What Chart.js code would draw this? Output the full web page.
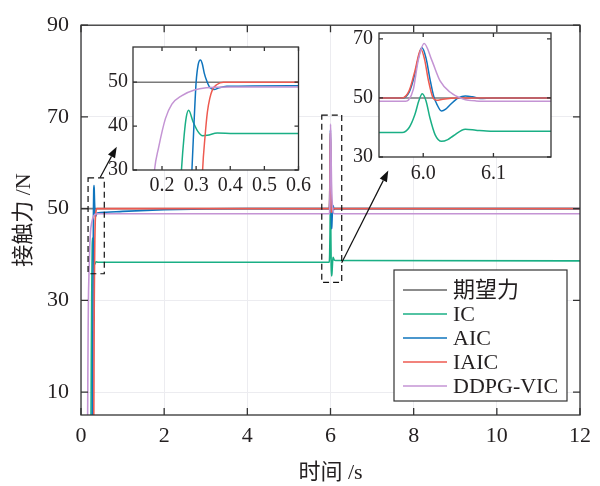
<!DOCTYPE html>
<html>
<head>
<meta charset="utf-8">
<script src="https://cdn.jsdelivr.net/npm/chart.js@4.4.1/dist/chart.umd.min.js"></script>
<style>
  html, body { margin: 0; padding: 0; background: #fff; }
  #wrap { position: relative; width: 600px; height: 486px; }
  #wrap canvas { position: absolute; }
</style>
</head>
<body>
<div id="wrap">
  <canvas id="mainChart" width="600" height="486" style="left:0;top:0"></canvas>
  <canvas id="inset1" width="215" height="170" style="left:100px;top:30px"></canvas>
  <canvas id="inset2" width="225" height="175" style="left:340px;top:15px"></canvas>
</div>
<script>
// series (time in s, force in N)
const seriesNames = ['期望力', 'IC', 'AIC', 'IAIC', 'DDPG-VIC'];

const desiredT = [0, 12];
const desiredF = [50, 50];

const icT = [0, 0.238, 0.248, 0.257, 0.265, 0.271, 0.278, 0.291, 0.305, 0.319, 0.333, 0.362, 0.41, 1.0,
  5.97, 5.98, 5.988, 5.994, 5.9986, 6.004, 6.0096, 6.017, 6.026, 6.035, 6.043, 6.06, 6.075, 6.09, 6.12, 12];
const icF = [0, 0, 17, 30, 38, 42, 43.6, 41, 38.8, 37.8, 37.9, 38.4, 38.3, 38.3,
  38.3, 40, 44.3, 49.2, 51.4, 49, 43.2, 37.5, 35.3, 35.9, 37.2, 39.4, 39.1, 38.8, 38.7, 38.6];

const aicT = [0, 0.27, 0.28, 0.2877, 0.294, 0.3, 0.306, 0.3126, 0.318, 0.324, 0.331, 0.338, 0.345, 0.3526, 0.367, 0.39, 0.6, 1.0, 2.0, 3.0, 4.0,
  5.97, 5.98, 5.988, 5.993, 5.998, 6.004, 6.0096, 6.015, 6.019, 6.026, 6.032, 6.038, 6.05, 6.06, 6.07, 6.081, 6.1, 12];
const aicF = [0, 0, 14, 30, 41, 50, 54, 55.05, 54.2, 52, 50.3, 49.05, 48.5, 48.3, 48.7, 49.05, 49.2, 49.4, 49.75, 49.95, 50,
  50, 52, 58, 63.5, 67.1, 63.5, 56.4, 50.5, 48.1, 45.6, 46.2, 47.6, 50, 50.7, 50.4, 49.8, 50, 50];

const iaicT = [0, 0.305, 0.312, 0.319, 0.326, 0.333, 0.34, 0.348, 0.36, 0.38,
  5.97, 5.98, 5.988, 5.9967, 6.002, 6.007, 6.014, 6.019, 6.028, 6.05, 12];
const iaicF = [0, 0, 14, 30, 37.5, 43.2, 46.3, 48.3, 49.4, 50,
  50, 52.5, 59, 66.5, 63, 56.4, 50, 49.2, 49.6, 50, 50];

const ddpgT = [0, 0.156, 0.165, 0.172, 0.178, 0.19, 0.21, 0.229, 0.257, 0.295, 0.33, 0.4,
  5.975, 5.979, 5.986, 5.993, 6.0014, 6.012, 6.024, 6.038, 6.057, 6.075, 6.1, 12];
const ddpgF = [0, 0, 14, 24, 30, 35.1, 41.7, 45, 46.9, 48.2, 48.7, 48.9,
  48.9, 49.3, 53, 62.9, 68.45, 62.9, 55.8, 52, 49.6, 49.0, 48.9, 48.9];

// tick labels
const mainXTicks = [0, 2, 4, 6, 8, 10, 12];
const mainYTicks = [10, 30, 50, 70, 90];
const inset1XTicks = [0.2, 0.3, 0.4, 0.5, 0.6];
const inset1YTicks = [30, 40, 50];
const inset2XTicks = [6.0, 6.1];
const inset2YTicks = [30, 50, 70];

// zoom boxes on main axes [t0, t1, f0, f1] and arrows [tFrom, fFrom, tTo, fTo]
const zoomBoxes = [[0.17, 0.56, 35.8, 56.7], [5.79, 6.27, 33.9, 70.4]];
const zoomArrows = [[0.46, 56.8, 0.86, 63.5], [6.27, 38.2, 7.39, 58.3]];

const colors = ['#7a7a7a', '#1aaf85', '#0f74bd', '#ee5a50', '#c494d4'];
const seriesT = [desiredT, icT, aicT, iaicT, ddpgT];
const seriesF = [desiredF, icF, aicF, iaicF, ddpgF];

const serif = '"Liberation Serif", "Times New Roman", "Noto Sans CJK SC", serif';
const textColor = '#231f20';
const axisColor = '#333333';

function makeDatasets(width) {
  return seriesNames.map((name, i) => ({
    label: name,
    data: seriesT[i].map((t, k) => ({ x: t, y: seriesF[i][k] })),
    borderColor: colors[i],
    borderWidth: width,
    pointRadius: 0,
    cubicInterpolationMode: 'monotone',
    fill: false,
    // later series drawn on top, like the plot order
    order: seriesNames.length - i
  }));
}

function fixedTicks(values) {
  return scale => { scale.ticks = values.map(v => ({ value: v })); };
}

function framePlugin(tickLen, whiteBg) {
  return {
    id: 'frame',
    beforeDraw(chart) {
      if (!whiteBg) return;
      const a = chart.chartArea, ctx = chart.ctx;
      ctx.save();
      ctx.fillStyle = '#fff';
      ctx.fillRect(a.left, a.top, a.right - a.left, a.bottom - a.top);
      ctx.restore();
    },
    afterDatasetsDraw(chart) {
      const { ctx, chartArea: a, scales: { x, y } } = chart;
      ctx.save();
      ctx.strokeStyle = axisColor;
      ctx.lineWidth = 1.3;
      ctx.strokeRect(a.left, a.top, a.right - a.left, a.bottom - a.top);
      ctx.beginPath();
      x.ticks.forEach(t => {
        const px = x.getPixelForValue(t.value);
        ctx.moveTo(px, a.bottom); ctx.lineTo(px, a.bottom - tickLen);
        ctx.moveTo(px, a.top); ctx.lineTo(px, a.top + tickLen);
      });
      y.ticks.forEach(t => {
        const py = y.getPixelForValue(t.value);
        ctx.moveTo(a.left, py); ctx.lineTo(a.left + tickLen, py);
        ctx.moveTo(a.right, py); ctx.lineTo(a.right - tickLen, py);
      });
      ctx.stroke();
      ctx.restore();
    }
  };
}

function drawArrow(ctx, x0, y0, x1, y1) {
  const ang = Math.atan2(y1 - y0, x1 - x0);
  const len = 11, half = 4;
  const bx = x1 - len * Math.cos(ang), by = y1 - len * Math.sin(ang);
  ctx.beginPath();
  ctx.moveTo(x0, y0); ctx.lineTo(bx, by);
  ctx.stroke();
  ctx.beginPath();
  ctx.moveTo(x1, y1);
  ctx.lineTo(bx + half * Math.sin(ang), by - half * Math.cos(ang));
  ctx.lineTo(bx - half * Math.sin(ang), by + half * Math.cos(ang));
  ctx.closePath();
  ctx.fill();
}

const annotations = {
  id: 'annotations',
  afterDraw(chart) {
    const { ctx, scales: { x, y } } = chart;
    ctx.save();
    ctx.strokeStyle = '#111'; ctx.fillStyle = '#111';
    ctx.lineWidth = 1.2;
    ctx.setLineDash([6, 4]);
    zoomBoxes.forEach(b => {
      const l = x.getPixelForValue(b[0]), r = x.getPixelForValue(b[1]);
      const t = y.getPixelForValue(b[3]), btm = y.getPixelForValue(b[2]);
      ctx.strokeRect(l, t, r - l, btm - t);
    });
    ctx.setLineDash([]);
    zoomArrows.forEach(a => {
      drawArrow(ctx, x.getPixelForValue(a[0]), y.getPixelForValue(a[1]),
        x.getPixelForValue(a[2]), y.getPixelForValue(a[3]));
    });

    // legend box
    const L = 394, T = 270, R = 567, B = 401;
    ctx.fillStyle = '#fff';
    ctx.fillRect(L, T, R - L, B - T);
    ctx.strokeStyle = axisColor; ctx.lineWidth = 1.2;
    ctx.strokeRect(L, T, R - L, B - T);
    ctx.font = '22px ' + serif;
    ctx.textBaseline = 'middle';
    ctx.textAlign = 'left';
    seriesNames.forEach((name, i) => {
      const ry = 290 + i * 24;
      ctx.strokeStyle = i === 0 ? '#666' : colors[i];
      ctx.lineWidth = 1.6;
      ctx.beginPath(); ctx.moveTo(403, ry); ctx.lineTo(447, ry); ctx.stroke();
      ctx.fillStyle = textColor;
      ctx.fillText(name, 453, ry + 1);
    });
    ctx.restore();
  }
};

function baseOptions(o) {
  return {
    responsive: false,
    animation: false,
    events: [],
    layout: { autoPadding: false, padding: o.padding },
    plugins: { legend: { display: false }, tooltip: { enabled: false } },
    scales: {
      x: {
        type: 'linear', min: o.xMin, max: o.xMax,
        afterBuildTicks: fixedTicks(o.xTicks),
        afterFit: s => { s.height = o.xHeight; },
        grid: { display: o.grid, color: '#ececf0', lineWidth: 1, drawTicks: false },
        border: { display: false },
        ticks: {
          padding: o.xPad, color: textColor, autoSkip: false, maxRotation: 0,
          font: { family: serif, size: o.fontSize },
          callback: o.xFormat
        },
        title: o.xTitle
      },
      y: {
        type: 'linear', min: o.yMin, max: o.yMax,
        afterBuildTicks: fixedTicks(o.yTicks),
        afterFit: s => { s.width = o.yWidth; },
        grid: { display: o.grid, color: '#ececf0', lineWidth: 1, drawTicks: false },
        border: { display: false },
        ticks: {
          padding: o.yPad, color: textColor, autoSkip: false,
          font: { family: serif, size: o.fontSize }
        },
        title: o.yTitle
      }
    }
  };
}

new Chart(document.getElementById('mainChart'), {
  type: 'line',
  data: { datasets: makeDatasets(1.6) },
  options: baseOptions({
    padding: { left: 0, right: 20, top: 13, bottom: 0 },
    xMin: 0, xMax: 12, xTicks: mainXTicks, xHeight: 71, xPad: 8,
    yMin: 5, yMax: 90, yTicks: mainYTicks, yWidth: 81, yPad: 12,
    fontSize: 22, grid: true,
    xFormat: v => String(v),
    xTitle: { display: true, text: '时间 /s', color: textColor, font: { family: serif, size: 22 }, padding: { top: 0, bottom: 0 } },
    yTitle: { display: true, text: '接触力 /N', color: textColor, font: { family: serif, size: 22 }, padding: { top: 11, bottom: 0 } }
  }),
  plugins: [framePlugin(7, false), annotations]
});

new Chart(document.getElementById('inset1'), {
  type: 'line',
  data: { datasets: makeDatasets(1.5) },
  options: baseOptions({
    padding: { left: 0, right: 10, top: 13, bottom: 0 },
    xMin: 0.115, xMax: 0.6, xTicks: inset1XTicks, xHeight: 30, xPad: 4,
    yMin: 30, yMax: 58, yTicks: inset1YTicks, yWidth: 33, yPad: 5,
    fontSize: 20, grid: false,
    xFormat: v => v.toFixed(1),
    xTitle: { display: false }, yTitle: { display: false }
  }),
  plugins: [framePlugin(4, true)]
});

new Chart(document.getElementById('inset2'), {
  type: 'line',
  data: { datasets: makeDatasets(1.5) },
  options: baseOptions({
    padding: { left: 0, right: 14, top: 14, bottom: 0 },
    xMin: 5.937, xMax: 6.182, xTicks: inset2XTicks, xHeight: 33, xPad: 5,
    yMin: 30, yMax: 72, yTicks: inset2YTicks, yWidth: 39, yPad: 6,
    fontSize: 20, grid: false,
    xFormat: v => v.toFixed(1),
    xTitle: { display: false }, yTitle: { display: false }
  }),
  plugins: [framePlugin(4, true)]
});
</script>
</body>
</html>
